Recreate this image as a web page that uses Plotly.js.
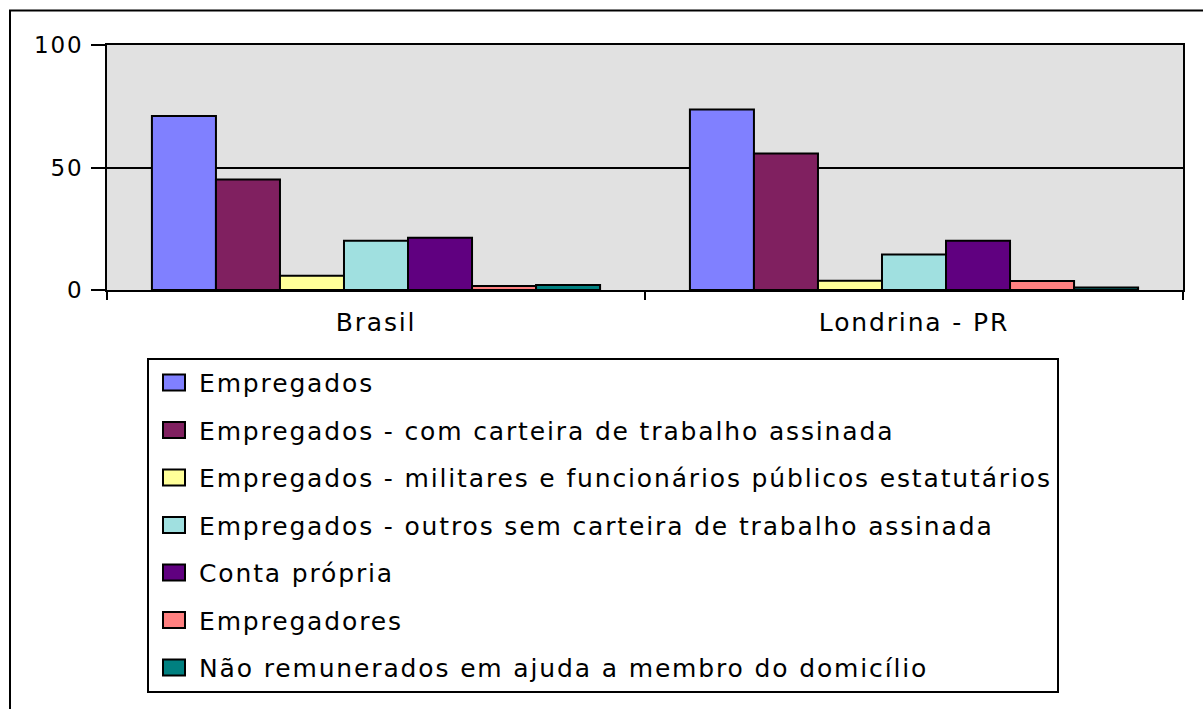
<!DOCTYPE html>
<html>
<head>
<meta charset="utf-8">
<script src="https://cdn.plot.ly/plotly-3.0.1.min.js"></script>
<style>
html,body{margin:0;padding:0;background:#fff;}
#chart{width:1203px;height:709px;}
svg text{letter-spacing:1.85px;}
</style>
</head>
<body>
<div id="chart"></div>
<script>
const categories = ["Brasil", "Londrina - PR"];
const seriesNames = [
  "Empregados",
  "Empregados - com carteira de trabalho assinada",
  "Empregados - militares e funcionários públicos estatutários",
  "Empregados - outros sem carteira de trabalho assinada",
  "Conta própria",
  "Empregadores",
  "Não remunerados em ajuda a membro do domicílio"
];
const empregados = [71.0, 73.7];
const comCarteira = [45.1, 55.7];
const militares = [5.8, 3.8];
const outrosSemCarteira = [20.1, 14.5];
const contaPropria = [21.3, 20.1];
const empregadores = [1.6, 3.7];
const naoRemunerados = [2.0, 1.0];
const yTicks = [0, 50, 100];

const seriesValues = [empregados, comCarteira, militares, outrosSemCarteira, contaPropria, empregadores, naoRemunerados];
const colors = ["#8080ff", "#802060", "#ffff99", "#a0e0e0", "#600080", "#ff8080", "#008080"];

const FONT = "DejaVu Sans, Verdana, sans-serif";

const traces = seriesNames.map((name, i) => ({
  type: "bar",
  name: name,
  x: categories,
  y: seriesValues[i],
  legendgroup: "g" + i,
  marker: {color: colors[i], line: {color: "#000", width: 2}},
  hoverinfo: "x+y+name"
}));

// plot area geometry (px): left 107, right 1183, top 44.5, bottom 290
const L = 107, R = 1183, T = 44.5, B = 290;
const px2x = p => (p - L) / (R - L);
const py2y = p => (B - p) / (B - T);

const layout = {
  width: 1203,
  height: 709,
  margin: {l: L, r: 1203 - R, t: T, b: 709 - B, pad: 0},
  paper_bgcolor: "#ffffff",
  plot_bgcolor: "#e1e1e1",
  barmode: "group",
  bargap: 0.167,
  bargroupgap: 0,
  showlegend: true,
  font: {family: FONT, color: "#000", size: 22},
  xaxis: {
    type: "category",
    showline: true, mirror: true, linecolor: "#000", linewidth: 2,
    ticks: "outside", tickson: "boundaries", ticklen: 8, tickwidth: 2, tickcolor: "#000",
    tickfont: {family: FONT, size: 25, color: "#000"},
    ticklabelstandoff: 9,
    showgrid: false, zeroline: false, fixedrange: true
  },
  yaxis: {
    range: [0, 100],
    tickvals: yTicks,
    ticktext: yTicks.map(String),
    showline: true, mirror: true, linecolor: "#000", linewidth: 2,
    ticks: "outside", ticklen: 14, tickwidth: 2, tickcolor: "#000",
    tickfont: {family: FONT, size: 23, color: "#000"},
    ticklabelstandoff: 3,
    showgrid: true, gridcolor: "#000", gridwidth: 1.5,
    zeroline: false, fixedrange: true
  },
  legend: {
    x: px2x(147), y: py2y(358), xanchor: "left", yanchor: "top",
    bgcolor: "#ffffff", bordercolor: "#000", borderwidth: 2,
    font: {family: FONT, size: 25, color: "#000"},
    traceorder: "grouped",
    tracegroupgap: 12,
    itemwidth: 40,
    itemclick: false, itemdoubleclick: false
  },
  shapes: [{
    type: "rect", xref: "paper", yref: "paper",
    x0: px2x(10), x1: px2x(1260), y0: py2y(760), y1: py2y(10),
    line: {color: "#000", width: 2}, fillcolor: "rgba(0,0,0,0)", layer: "below"
  }]
};

Plotly.newPlot("chart", traces, layout, {displayModeBar: false}).then(gd => {
  // enlarge legend swatches to resemble the original rectangular keys
  document.querySelectorAll(".legendpoints path").forEach(p => {
    p.setAttribute("d", "M11,8H-11V-8H11Z");
  });
});
</script>
</body>
</html>
